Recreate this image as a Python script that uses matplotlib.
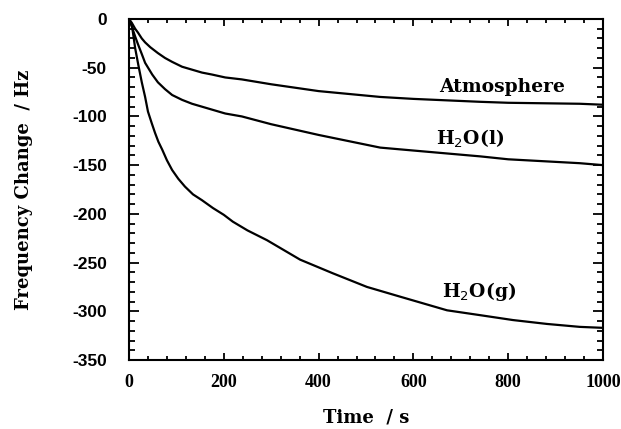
import matplotlib
matplotlib.use("Agg")
import matplotlib.pyplot as plt
from matplotlib.ticker import MultipleLocator

# Data
t_atm = [0, 6, 13, 19, 27, 34, 45, 61, 76, 91, 112, 133, 154, 175, 203, 238, 300, 400, 530, 600, 741, 800, 951, 1000]
v_atm = [0, -4, -10, -14, -20, -24, -29, -35, -40, -44, -49, -52, -55, -57, -60, -62, -67, -74, -80, -82, -85, -86, -87, -88]

t_liq = [0, 6, 13, 19, 27, 34, 49, 61, 76, 91, 112, 133, 154, 175, 203, 238, 300, 400, 530, 600, 741, 800, 951, 1000]
v_liq = [0, -8, -18, -26, -36, -45, -57, -65, -72, -78, -83, -87, -90, -93, -97, -100, -108, -119, -132, -135, -141, -144, -148, -150]

t_gas = [0, 6, 13, 20, 27, 34, 40, 48, 55, 62, 70, 80, 91, 104, 118, 135, 154, 177, 200, 219, 250, 291, 361, 430, 502, 572, 671, 741, 810, 882, 951, 1000]
v_gas = [0, -6, -30, -48, -65, -80, -95, -107, -117, -126, -134, -145, -155, -164, -172, -180, -186, -194, -201, -208, -217, -227, -247, -261, -275, -285, -299, -304, -309, -313, -316, -317]

series_labels = ["Atmosphere", "H$_2$O(l)", "H$_2$O(g)"]
label_pos_t = [787, 720, 738]
label_pos_v = [-70, -123, -280]

x_ticks = [0, 200, 400, 600, 800, 1000]
y_ticks = [0, -50, -100, -150, -200, -250, -300, -350]

serif = ["DejaVu Serif"]
serif_narrow = ["Liberation Serif", "DejaVu Serif"]
sans = ["Liberation Sans", "DejaVu Sans"]

fig = plt.figure(figsize=(6.21, 4.29), dpi=100)
ax = fig.add_axes([129/621, 1 - 360/429, (603-129)/621, (360-19)/429])

for t, v in [(t_atm, v_atm), (t_liq, v_liq), (t_gas, v_gas)]:
    ax.plot(t, v, color="black", lw=1.6, solid_joinstyle="round", solid_capstyle="round")

for lab, tx, vy in zip(series_labels, label_pos_t, label_pos_v):
    ax.text(tx, vy, lab, ha="center", va="center", fontsize=13.5,
            family=serif, fontweight="bold")

ax.set_xlim(0, 1000)
ax.set_ylim(-350, 0)
ax.set_xticks(x_ticks)
ax.set_yticks(y_ticks)
ax.xaxis.set_minor_locator(MultipleLocator(40))
ax.yaxis.set_minor_locator(MultipleLocator(10))
ax.set_xticklabels([str(v) for v in x_ticks], family=serif_narrow, fontweight="bold", fontsize=13)
ax.set_yticklabels([str(v) for v in y_ticks], family=sans, fontweight="bold", fontsize=12.5)

ax.tick_params(axis="both", which="both", direction="in", top=True, right=True, width=1.3)
ax.tick_params(axis="x", which="major", length=5, pad=10)
ax.tick_params(axis="x", which="minor", length=3)
ax.tick_params(axis="y", which="major", length=7, pad=16)
ax.tick_params(axis="y", which="minor", length=4.5)
for s in ax.spines.values():
    s.set_linewidth(1.5)

ax.set_xlabel("Time  / s", family=serif, fontweight="bold", fontsize=13)
ax.set_ylabel("Frequency Change  / Hz", family=serif, fontweight="bold", fontsize=13)
ax.xaxis.set_label_coords(0.5, (360 - 408) / 341)
ax.yaxis.set_label_coords((33 - 129) / 474, 0.5)

fig.savefig("out.png", dpi=100)
